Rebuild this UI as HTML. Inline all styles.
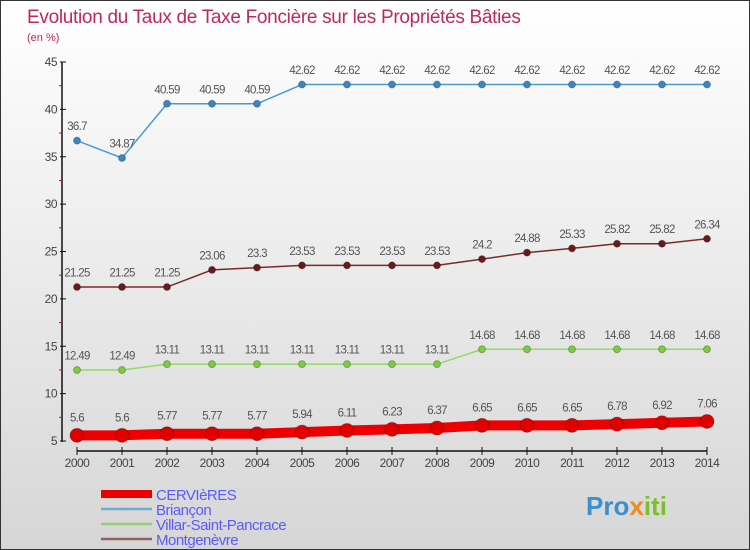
<!DOCTYPE html>
<html><head><meta charset="utf-8"><style>
body{margin:0}
#c{width:750px;height:550px;position:relative;overflow:hidden;box-sizing:border-box;border:1px solid #333;background:linear-gradient(#ffffff,#d6d6d6);font-family:"Liberation Sans",sans-serif}
</style></head><body>
<div id="c">
<svg id="s" width="750" height="550" style="position:absolute;left:0;top:0">
<text x="26" y="22" font-size="19" fill="#c2275e" letter-spacing="-0.3">Evolution du Taux de Taxe Foncière sur les Propriétés Bâties</text>
<text x="26" y="40" font-size="11" fill="#c2275e">(en %)</text>
<g id="ax"></g>
<g id="series"></g>
<g id="legend"></g>
<text x="585" y="514" font-size="26" font-weight="bold" fill="#3a8fd0">Pro<tspan fill="#f08a1c">x</tspan><tspan fill="#7bbf2a">iti</tspan></text>
</svg>
</div>
<script>
const years=[2000,2001,2002,2003,2004,2005,2006,2007,2008,2009,2010,2011,2012,2013,2014];
const yTicks=[5,10,15,20,25,30,35,40,45];
const cervieres=[5.6,5.6,5.77,5.77,5.77,5.94,6.11,6.23,6.37,6.65,6.65,6.65,6.78,6.92,7.06];
const briancon=[36.7,34.87,40.59,40.59,40.59,42.62,42.62,42.62,42.62,42.62,42.62,42.62,42.62,42.62,42.62];
const villar=[12.49,12.49,13.11,13.11,13.11,13.11,13.11,13.11,13.11,14.68,14.68,14.68,14.68,14.68,14.68];
const montgenevre=[21.25,21.25,21.25,23.06,23.3,23.53,23.53,23.53,23.53,24.2,24.88,25.33,25.82,25.82,26.34];
const seriesNames=["CERVIèRES","Briançon","Villar-Saint-Pancrace","Montgenèvre"];
const NS="http://www.w3.org/2000/svg";
function X(i){return 76+i*45;}
function Y(v){return 440-(v-5)*(379/40);}
function mk(t,a,p){const e=document.createElementNS(NS,t);for(const k in a)e.setAttribute(k,a[k]);p.appendChild(e);return e;}
const ax=document.getElementById('ax');
mk('line',{x1:61,y1:61,x2:61,y2:441,stroke:'#111','stroke-width':1.5},ax);
mk('line',{x1:76,y1:450,x2:706,y2:450,stroke:'#111','stroke-width':1.5},ax);
yTicks.forEach(v=>{
 mk('line',{x1:59,x2:65,y1:Y(v),y2:Y(v),stroke:'#111'},ax);
 if(v<45)mk('line',{x1:58,x2:61,y1:Y(v+2.5),y2:Y(v+2.5),stroke:'#e00'},ax);
 const t=mk('text',{x:56,y:Y(v)+4,'font-size':12,fill:'#444','text-anchor':'end','letter-spacing':'-0.5'},ax);
 t.textContent=v;
 
 
});
years.forEach((y,i)=>{
 mk('line',{x1:X(i),x2:X(i),y1:446,y2:454,stroke:'#111'},ax);
 const t=mk('text',{x:X(i),y:466,'font-size':12,fill:'#444','text-anchor':'middle','letter-spacing':'-0.5'},ax);
 t.textContent=y;
 
 
});
const sg=document.getElementById('series');
function draw(data,color,dot,w,r,name){
 const g=mk('g',{},sg);
 
 
 mk('polyline',{points:data.map((v,i)=>X(i)+','+Y(v)).join(' '),fill:'none',stroke:color,'stroke-width':w},g);
 data.forEach((v,i)=>{
  const c=mk('circle',{cx:X(i),cy:Y(v),r:r,fill:dot,stroke:'rgba(0,0,0,0.25)'},g);
  
  
  const t=mk('text',{x:X(i),y:Y(v)-(r+7),'font-size':11.5,fill:'#555','text-anchor':'middle','letter-spacing':'-0.7'},g);
  t.textContent=v;
  
  
 });
}
draw(montgenevre,'#7a2a2a','#6a1a1a',1.5,3.5,'montgenevre-series');
draw(villar,'#8edc62','#7ccc3c',1.5,3.5,'villar-series');
draw(briancon,'#4a9ad4','#3a86c4',1.5,3.5,'briancon-series');
draw(cervieres,'#ee0000','#e00000',10,7,'cervieres-series');
const lg=document.getElementById('legend');
const lc=['#ee0000','#6fa8d0','#90d070','#906060'],lw=[8,2.5,2.5,2.5];
seriesNames.forEach((n,i)=>{
 const y=493+i*15;
 const l=mk('line',{x1:100,x2:151,y1:y,y2:y,stroke:lc[i],'stroke-width':lw[i]},lg);
 
 
 const t=mk('text',{x:155,y:y+6,'font-size':15,fill:'#5a5aff','letter-spacing':'-0.5'},lg);
 t.textContent=n;
 
 
});
</script>
</body></html>
